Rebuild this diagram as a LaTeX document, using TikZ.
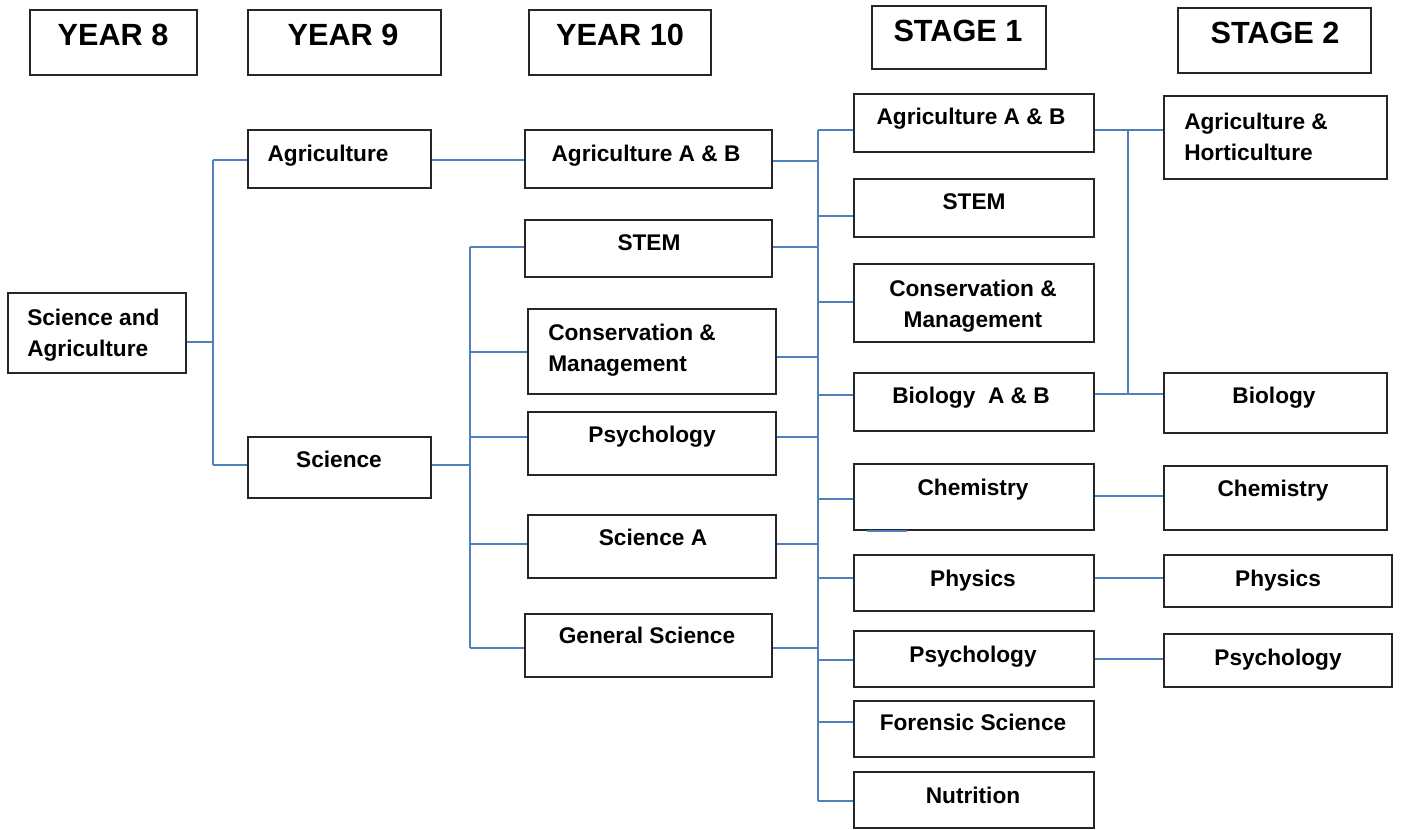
\documentclass[tikz,border=0pt]{standalone}
\usepackage{fontspec}
\setmainfont{Liberation Sans}
\usepackage{xcolor}
\usetikzlibrary{fit}

\definecolor{linkblue}{HTML}{4F81BD}

\tikzset{
  box/.style={draw=black!85, line width=1.2pt, inner sep=0pt},
  txt/.style={font=\bfseries\fontsize{17}{23}\selectfont, inner sep=0pt},
  hdr/.style={font=\bfseries\fontsize{23}{28}\selectfont, inner sep=0pt},
  link/.style={draw=linkblue, line width=1.3pt}
}

\begin{document}
\begin{tikzpicture}[x=0.75pt, y=-0.75pt]
  \useasboundingbox (0,0) rectangle (1402,830);

  % column headings
  \node[box, fit={(30,10) (197,75)}] (h8) {};
  \node[hdr, anchor=mid] (h8t) at (113,42) {YEAR 8};
  \node[box, fit={(248,10) (441,75)}] (h9) {};
  \node[hdr, anchor=mid] (h9t) at (343,42) {YEAR 9};
  \node[box, fit={(529,10) (711,75)}] (h10) {};
  \node[hdr, anchor=mid] (h10t) at (620,42) {YEAR 10};
  \node[box, fit={(872,6) (1046,69)}] (hs1) {};
  \node[hdr, anchor=mid] (hs1t) at (958,38) {STAGE 1};
  \node[box, fit={(1178,8) (1371,73)}] (hs2) {};
  \node[hdr, anchor=mid] (hs2t) at (1275,40) {STAGE 2};

  % year 8 and 9
  \node[box, fit={(8,293) (186,373)}] (y8sa) {};
  \node[txt, align=left, anchor=west] (y8sat) at (27,335) {Science and\\Agriculture};
  \node[box, fit={(248,130) (431,188)}] (y9agr) {};
  \node[txt, anchor=mid] (y9agrt) at (328,158) {Agriculture};
  \node[box, fit={(248,437) (431,498)}] (y9sci) {};
  \node[txt, anchor=mid] (y9scit) at (339,464) {Science};

  % year 10
  \node[box, fit={(525,130) (772,188)}] (y10agr) {};
  \node[txt, anchor=mid] (y10agrt) at (646,158) {Agriculture A \& B};
  \node[box, fit={(525,220) (772,277)}] (y10stem) {};
  \node[txt, anchor=mid] (y10stemt) at (649,247) {STEM};
  \node[box, fit={(528,309) (776,394)}] (y10con) {};
  \node[txt, align=left, anchor=west] (y10cont) at (548,350) {Conservation \&\\Management};
  \node[box, fit={(528,412) (776,475)}] (y10psy) {};
  \node[txt, anchor=mid] (y10psyt) at (652,439) {Psychology};
  \node[box, fit={(528,515) (776,578)}] (y10scia) {};
  \node[txt, anchor=mid] (y10sciat) at (653,542) {Science A};
  \node[box, fit={(525,614) (772,677)}] (y10gen) {};
  \node[txt, anchor=mid] (y10gent) at (647,640) {General Science};

  % stage 1
  \node[box, fit={(854,94) (1094,152)}] (s1agr) {};
  \node[txt, anchor=mid] (s1agrt) at (971,121) {Agriculture A \& B};
  \node[box, fit={(854,179) (1094,237)}] (s1stem) {};
  \node[txt, anchor=mid] (s1stemt) at (974,206) {STEM};
  \node[box, fit={(854,264) (1094,342)}] (s1con) {};
  \node[txt, align=center] (s1cont) at (973,306) {Conservation \&\\Management};
  \node[box, fit={(854,373) (1094,431)}] (s1bio) {};
  \node[txt, anchor=mid] (s1biot) at (971,400) {Biology\ \ A \& B};
  \node[box, fit={(854,464) (1094,530)}] (s1chem) {};
  \node[txt, anchor=mid] (s1chemt) at (973,492) {Chemistry};
  \node[box, fit={(854,555) (1094,611)}] (s1phy) {};
  \node[txt, anchor=mid] (s1phyt) at (973,583) {Physics};
  \node[box, fit={(854,631) (1094,687)}] (s1psy) {};
  \node[txt, anchor=mid] (s1psyt) at (973,659) {Psychology};
  \node[box, fit={(854,701) (1094,757)}] (s1for) {};
  \node[txt, anchor=mid] (s1fort) at (973,727) {Forensic Science};
  \node[box, fit={(854,772) (1094,828)}] (s1nut) {};
  \node[txt, anchor=mid] (s1nutt) at (973,800) {Nutrition};

  % stage 2
  \node[box, fit={(1164,96) (1387,179)}] (s2agr) {};
  \node[txt, align=left, anchor=west] (s2agrt) at (1184,137) {Agriculture \&\\Horticulture};
  \node[box, fit={(1164,373) (1387,433)}] (s2bio) {};
  \node[txt, anchor=mid] (s2biot) at (1274,400) {Biology};
  \node[box, fit={(1164,466) (1387,530)}] (s2chem) {};
  \node[txt, anchor=mid] (s2chemt) at (1273,493) {Chemistry};
  \node[box, fit={(1164,555) (1392,607)}] (s2phy) {};
  \node[txt, anchor=mid] (s2phyt) at (1278,583) {Physics};
  \node[box, fit={(1164,634) (1392,687)}] (s2psy) {};
  \node[txt, anchor=mid] (s2psyt) at (1278,662) {Psychology};

  \coordinate (bus9) at (213,0);
  \coordinate (bus10) at (470,0);
  \coordinate (bus1) at (818,0);
  \coordinate (bus2) at (1128,0);

  % connectors
  \draw[link] (y8sa.east |- 0,342) -- (bus9 |- 0,342);
  \draw[link] (bus9 |- 0,160) -- (bus9 |- 0,465);
  \foreach \n/\y in {y9agr/160,y9sci/465}
    \draw[link] (bus9 |- 0,\y) -- (\n.west |- 0,\y);
  \draw[link] (y9agr.east |- 0,160) -- (y10agr.west |- 0,160);

  \draw[link] (y9sci.east |- 0,465) -- (bus10 |- 0,465);
  \draw[link] (bus10 |- 0,247) -- (bus10 |- 0,648);
  \foreach \n/\y in {y10stem/247,y10con/352,y10psy/437,y10scia/544,y10gen/648}
    \draw[link] (bus10 |- 0,\y) -- (\n.west |- 0,\y);

  \draw[link] (bus1 |- 0,130) -- (bus1 |- 0,801);
  \foreach \n/\y in {y10agr/161,y10stem/247,y10con/357,y10psy/437,y10scia/544,y10gen/648}
    \draw[link] (\n.east |- 0,\y) -- (bus1 |- 0,\y);
  \foreach \n/\y in {s1agr/130,s1stem/216,s1con/302,s1bio/395,s1chem/499,s1phy/578,s1psy/660,s1for/722,s1nut/801}
    \draw[link] (bus1 |- 0,\y) -- (\n.west |- 0,\y);

  \draw[link] (s1agr.east |- 0,130) -- (s2agr.west |- 0,130);
  \draw[link] (s1bio.east |- 0,394) -- (s2bio.west |- 0,394);
  \draw[link] (bus2 |- 0,130) -- (bus2 |- 0,394);
  \foreach \n/\y in {chem/496,phy/578,psy/659}
    \draw[link] (s1\n.east |- 0,\y) -- (s2\n.west |- 0,\y);

  \draw[link] ([xshift=10.5pt]s1chem.south west) -- ++(40,0);
\end{tikzpicture}
\end{document}
